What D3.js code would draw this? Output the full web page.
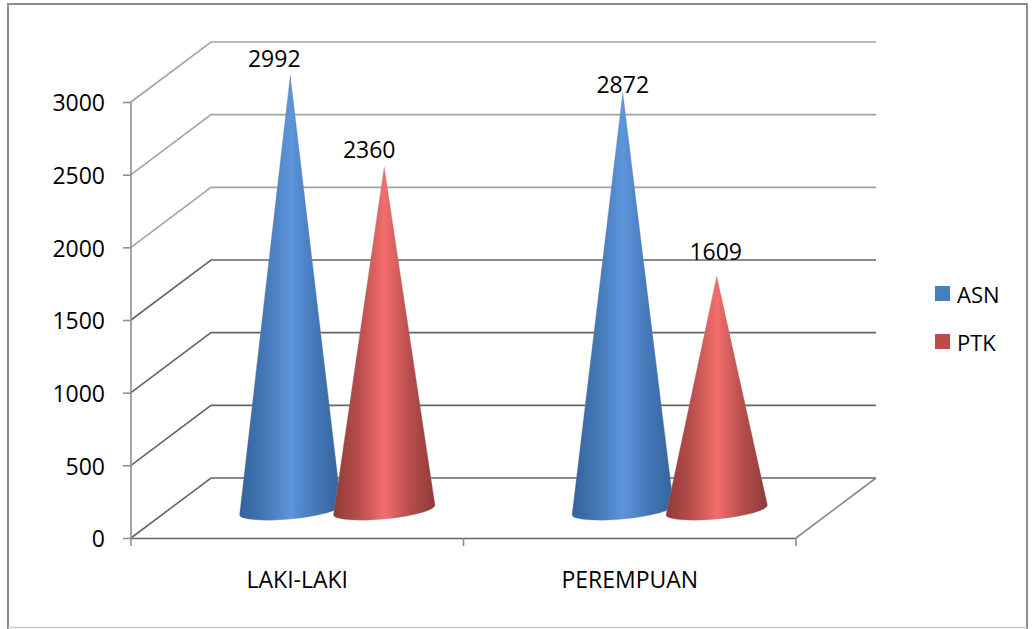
<!DOCTYPE html>
<html>
<head>
<meta charset="utf-8">
<script src="https://cdn.jsdelivr.net/npm/d3@7"></script>
<style>
    html, body { margin: 0; padding: 0; background: #fff; }
    svg { display: block; }
    text { font-family: "Open Sans", "Noto Sans", sans-serif; fill: #000; }
</style>
</head>
<body>
<div id="chart"></div>
<script>
"use strict";

const categories = ["LAKI-LAKI", "PEREMPUAN"];
const seriesNames = ["ASN", "PTK"];
const asnValues = [2992, 2872];
const ptkValues = [2360, 1609];
const valueTicks = [0, 500, 1000, 1500, 2000, 2500, 3000];

const WIDTH = 1032;
const HEIGHT = 629;
const PLOT_LEFT = 131;
const PLOT_RIGHT = 796;
const PLOT_BOTTOM = 538;
const PLOT_TOP = 102;
const DEPTH_X = 80;
const DEPTH_Y = 60;
const CONE_RX = 51;
const CONE_RY = 9;
const CONE_TILT = -5.5;
const FONT_SIZE = 23;

const COLORS = {
    ASN: {edge: "#33639b", shade: "#4478b8", mid: "#5d95db", key: "#4a7ebb"},
    PTK: {edge: "#8f3a38", shade: "#b84e4b", mid: "#f26e6c", key: "#be4b48"}
};

// hand placed offsets of the value labels from the cone tip: [dx, dy]
const LABEL_NUDGE = [[[-16, -17], [-15, -18]], [[0, -9], [-1, -25]]];

const svg = d3.select("#chart").append("svg")
    .attr("width", WIDTH)
    .attr("height", HEIGHT);

const defs = svg.append("defs");

seriesNames.forEach(function (name) {
    const grad = defs.append("linearGradient")
        .attr("id", "cone-" + name)
        .attr("x1", 0).attr("x2", 1)
        .attr("y1", 0).attr("y2", 0);
    grad.append("stop").attr("offset", "0%").attr("stop-color", COLORS[name].edge);
    grad.append("stop").attr("offset", "25%").attr("stop-color", COLORS[name].shade);
    grad.append("stop").attr("offset", "50%").attr("stop-color", COLORS[name].mid);
    grad.append("stop").attr("offset", "75%").attr("stop-color", COLORS[name].shade);
    grad.append("stop").attr("offset", "100%").attr("stop-color", COLORS[name].edge);
});

// picture frame
svg.append("rect")
    .attr("x", 8).attr("y", 4)
    .attr("width", 1019).attr("height", 640)
    .attr("fill", "none")
    .attr("stroke", "#8c8c8c")
    .attr("stroke-width", 2);
svg.append("line")
    .attr("x1", 8).attr("x2", 1027)
    .attr("y1", 627.5).attr("y2", 627.5)
    .attr("stroke", "#c8c8c8")
    .attr("stroke-width", 1.5);

const y = d3.scaleLinear()
    .domain([0, 3000])
    .range([PLOT_BOTTOM, PLOT_TOP]);

const xCategory = d3.scaleBand()
    .domain(categories)
    .range([PLOT_LEFT, PLOT_RIGHT]);

const xSeries = d3.scaleBand()
    .domain(seriesNames)
    .range([0, xCategory.bandwidth()])
    .paddingInner(0)
    .paddingOuter(0.77);

// gridlines on the back wall with their diagonal on the side wall
const grid = svg.append("g");
valueTicks.forEach(function (v) {
    const color = (v >= 2000) ? "#a3a3a3" : "#666666";
    const wallY = y(v) - DEPTH_Y;
    grid.append("path")
        .attr("d", d3.line()([
            [PLOT_LEFT, y(v)],
            [PLOT_LEFT + DEPTH_X, wallY],
            [PLOT_RIGHT + DEPTH_X, wallY]
        ]))
        .attr("fill", "none")
        .attr("stroke", color)
        .attr("stroke-width", 1.6);
});
// right edge of the floor
grid.append("line")
    .attr("x1", PLOT_RIGHT).attr("y1", PLOT_BOTTOM)
    .attr("x2", PLOT_RIGHT + DEPTH_X).attr("y2", PLOT_BOTTOM - DEPTH_Y)
    .attr("stroke", "#8a8a8a")
    .attr("stroke-width", 1.6);

const yAxis = d3.axisLeft(y)
    .tickValues(valueTicks)
    .tickFormat(d3.format("d"))
    .tickSize(8)
    .tickPadding(18);

svg.append("g")
    .attr("transform", "translate(" + PLOT_LEFT + ",0)")
    .call(yAxis)
    .call(function (g) {
        g.selectAll("path, line").attr("stroke", "#8f8f8f").attr("stroke-width", 1.6);
        g.selectAll("text")
            .style("font-family", "\"Open Sans\", \"Noto Sans\", sans-serif")
            .style("font-size", FONT_SIZE + "px")
            .attr("fill", "#000")
            .attr("transform", "translate(0,1.5)");
        g.select(".domain").attr("d", "M0," + PLOT_BOTTOM + "V" + PLOT_TOP);
    });

const xAxis = d3.axisBottom(xCategory)
    .tickSize(0)
    .tickPadding(34);

const xAxisGroup = svg.append("g")
    .attr("transform", "translate(0," + PLOT_BOTTOM + ")")
    .call(xAxis)
    .call(function (g) {
        g.select(".domain").attr("stroke", "#666666").attr("stroke-width", 1.6);
        g.selectAll("text")
            .style("font-family", "\"Open Sans\", \"Noto Sans\", sans-serif")
            .style("font-size", "23px")
            .attr("fill", "#000");
    });

// category ticks sit between the bands, not at their centres
xAxisGroup.selectAll(".band-tick")
    .data([PLOT_LEFT].concat(categories.map(function (c) { return xCategory(c) + xCategory.bandwidth(); })))
    .enter()
    .append("line")
    .attr("class", "band-tick")
    .attr("x1", function (d) { return d; })
    .attr("x2", function (d) { return d; })
    .attr("y1", 0)
    .attr("y2", 8)
    .attr("stroke", "#8f8f8f")
    .attr("stroke-width", 1.6);

function conePath(cx, baseY, tipY) {
    const rad = CONE_TILT * Math.PI / 180;
    const ex = CONE_RX * Math.cos(rad);
    const ey = CONE_RX * Math.sin(rad);
    return "M" + (cx - ex) + "," + (baseY - ey) +
        "L" + cx + "," + tipY +
        "L" + (cx + ex) + "," + (baseY + ey) +
        "A" + CONE_RX + "," + CONE_RY + " " + CONE_TILT + " 0 1 " + (cx - ex) + "," + (baseY - ey) + "Z";
}

const seriesValues = [asnValues, ptkValues];

categories.forEach(function (category, c) {
    seriesNames.forEach(function (name, s) {
        const value = seriesValues[s][c];
        const cx = xCategory(category) + xSeries(name) + xSeries.bandwidth() / 2 + DEPTH_X / 2;
        const baseY = y(0) - DEPTH_Y / 2 + 2;
        const tipY = baseY - (y(0) - y(value));

        svg.append("path")
            .attr("d", conePath(cx, baseY, tipY))
            .attr("fill", "url(#cone-" + name + ")")
            .attr("stroke", "#8d8d8d")
            .attr("stroke-width", 0.5)
            .attr("stroke-opacity", 0.6);

        svg.append("text")
            .attr("x", cx + LABEL_NUDGE[c][s][0])
            .attr("y", tipY + LABEL_NUDGE[c][s][1])
            .attr("text-anchor", "middle")
            .attr("dominant-baseline", "central")
            .style("font-size", FONT_SIZE + "px")
            .text(value);
    });
});

const legend = svg.append("g")
    .attr("transform", "translate(935,286)");

const legendRow = legend.selectAll("g")
    .data(seriesNames)
    .enter()
    .append("g")
    .attr("transform", function (d, i) { return "translate(0," + (i * 48) + ")"; });

legendRow.append("rect")
    .attr("width", 15)
    .attr("height", 15)
    .attr("fill", function (d) { return COLORS[d].key; });

legendRow.append("text")
    .attr("x", 22)
    .attr("y", 7.5)
    .attr("dominant-baseline", "central")
    .style("font-size", "22px")
    .text(function (d) { return d; });
</script>
</body>
</html>
